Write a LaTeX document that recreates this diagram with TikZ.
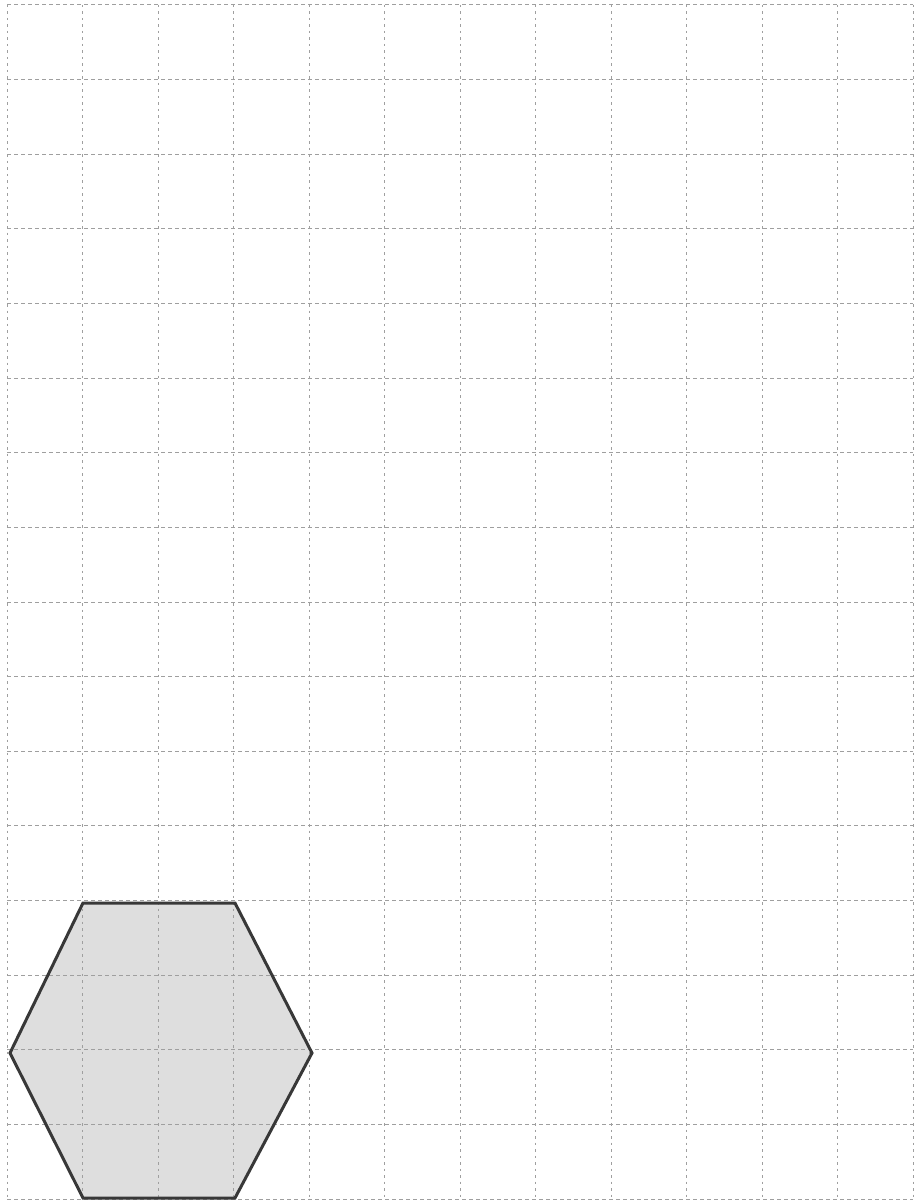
\documentclass[tikz,border=0pt]{standalone}
\begin{document}
\begin{tikzpicture}[x=1pt,y=-1pt,
  vgrid/.style={draw=gray!75, line width=1pt, dash pattern=on 2.5pt off 4pt},
  hgrid/.style={draw=gray!75, line width=1pt, dash pattern=on 4pt off 3pt},
  hexfill/.style={fill=black!13},
  hexline/.style={draw=black!78, line width=3pt, line join=miter}]
\useasboundingbox (0,0) rectangle (918,1201);
% hexagon vertices
\coordinate (A) at (83,903);
\coordinate (B) at (235,903);
\coordinate (C) at (312,1053);
\coordinate (D) at (235,1198);
\coordinate (E) at (83,1198);
\coordinate (F) at (10,1053);
\fill[hexfill] (A) -- (B) -- (C) -- (D) -- (E) -- (F) -- cycle;
% grid
\foreach \i in {0,...,12} {
  \draw[vgrid] ({7+75.5*\i},5) -- ({7+75.5*\i},1199);
}
\foreach \j in {0,...,16} {
  \draw[hgrid] (7,{5+74.625*\j}) -- (913,{5+74.625*\j});
}
\draw[hexline] (A) -- (B) -- (C) -- (D) -- (E) -- (F) -- cycle;
\end{tikzpicture}
\end{document}
